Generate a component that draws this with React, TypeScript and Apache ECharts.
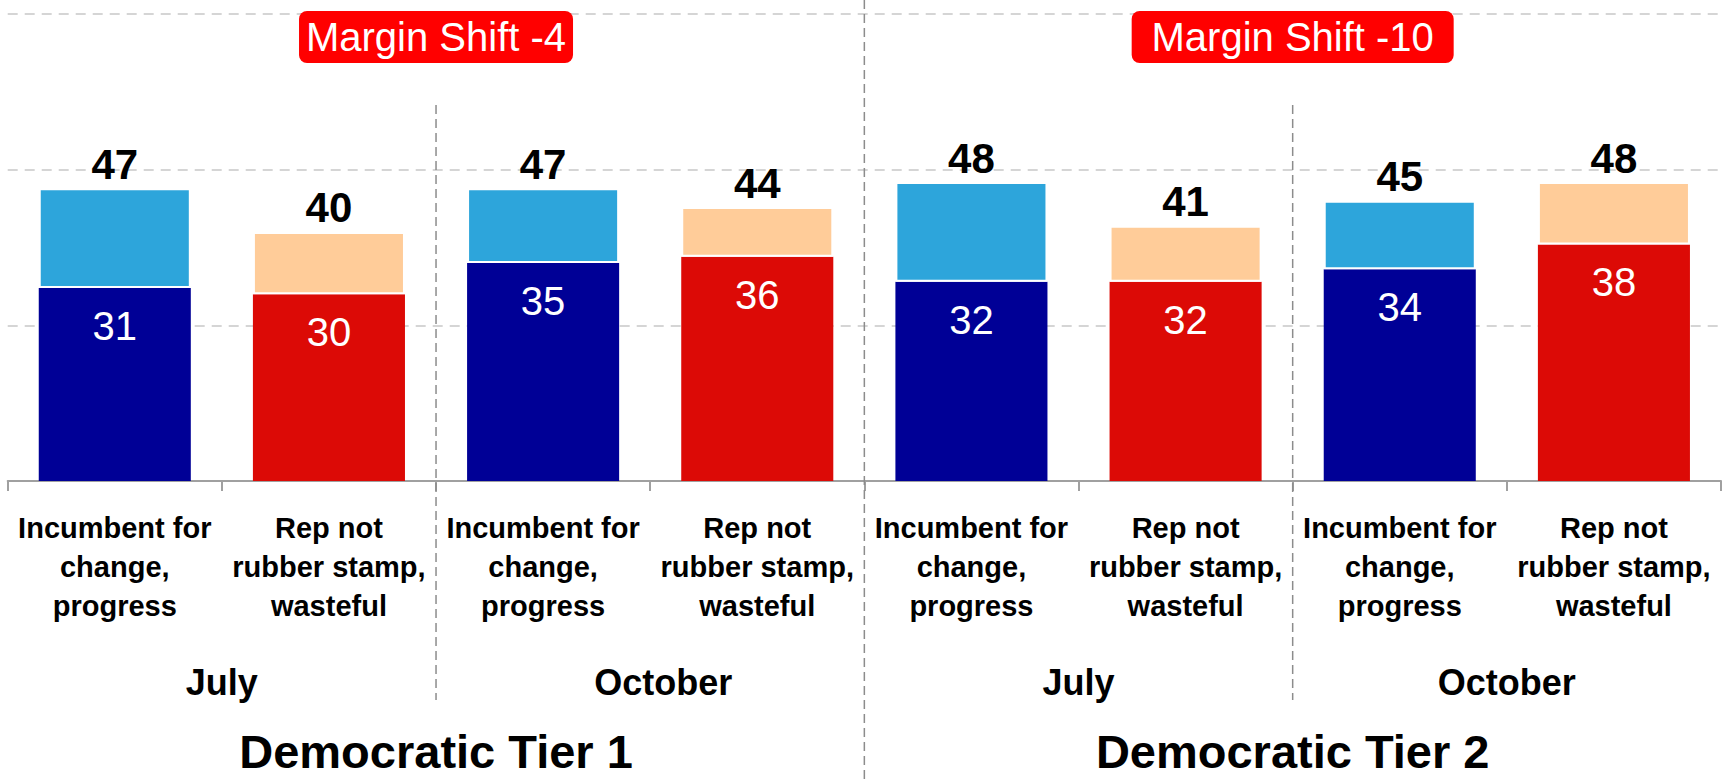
import React, { useEffect, useRef } from "react";
import * as echarts from "echarts";

// ---- data ----
const categories = [
  "Incumbent for\nchange,\nprogress",
  "Rep not\nrubber stamp,\nwasteful",
  "Incumbent for\nchange,\nprogress",
  "Rep not\nrubber stamp,\nwasteful",
  "Incumbent for\nchange,\nprogress",
  "Rep not\nrubber stamp,\nwasteful",
  "Incumbent for\nchange,\nprogress",
  "Rep not\nrubber stamp,\nwasteful",
];
const months = ["July", "October", "July", "October"];
const tiers = ["Democratic Tier 1", "Democratic Tier 2"];
const totals = [47, 40, 47, 44, 48, 41, 45, 48];
const strong = [31, 30, 35, 36, 32, 32, 34, 38];
const marginShifts = ["Margin Shift -4", "Margin Shift -10"];
const yMin = 0;
const yMax = 75;
const yInterval = 25;

// ---- styles ----
const FONT = "Liberation Sans";
const DARK_BLUE = "#000096";
const LIGHT_BLUE = "#2DA5DB";
const DARK_RED = "#DC0A06";
const PEACH = "#FFCC99";
const BOX_RED = "#FF0000";
const AXIS_GRAY = "#A0A0A0";
const boxWidths = [274, 322];

export default function App() {
  const ref = useRef<HTMLDivElement>(null);

  useEffect(() => {
    if (!ref.current) return;
    const chart = echarts.init(ref.current, undefined, { renderer: "svg" });

    const upper = totals.map((t, i) => t - strong[i]);

    const monthLabelStyle = {
      fontFamily: FONT,
      fontWeight: "bold",
      fontSize: 36,
      lineHeight: 36,
      color: "#000",
    };

    const option: any = {
      animation: false,
      grid: { left: 7.7, right: 3, top: 14, bottom: 300, containLabel: false },
      xAxis: [
        {
          type: "category",
          data: categories,
          gridIndex: 0,
          position: "bottom",
          axisLine: { show: true, lineStyle: { color: AXIS_GRAY, width: 2 } },
          axisTick: { show: true, length: 10, lineStyle: { color: AXIS_GRAY, width: 2 } },
          axisLabel: {
            interval: 0,
            margin: 27,
            fontFamily: FONT,
            fontWeight: "bold",
            fontSize: 29,
            lineHeight: 39,
            color: "#000",
            align: "center",
          },
          splitLine: { show: false },
        },
        {
          type: "category",
          data: months,
          gridIndex: 0,
          position: "bottom",
          axisLine: { show: false },
          axisTick: { show: false },
          splitLine: { show: false },
          axisLabel: {
            interval: 0,
            margin: 183,
            ...monthLabelStyle,
            formatter: (v: string, idx: number) => (idx === 1 ? `{s|${v}}` : `{n|${v}}`),
            rich: {
              n: { ...monthLabelStyle },
              s: { ...monthLabelStyle, padding: [0, 0, 0, 26] },
            },
          },
        },
        {
          type: "category",
          data: tiers,
          gridIndex: 0,
          position: "bottom",
          axisLine: { show: false },
          axisTick: { show: false },
          splitLine: { show: false },
          axisLabel: {
            interval: 0,
            margin: 250,
            fontFamily: FONT,
            fontWeight: "bold",
            fontSize: 47,
            lineHeight: 40,
            color: "#000",
          },
        },
      ],
      yAxis: {
        type: "value",
        min: yMin,
        max: yMax,
        interval: yInterval,
        axisLine: { show: false },
        axisTick: { show: false },
        axisLabel: { show: false },
        splitLine: {
          show: true,
          lineStyle: { color: "#C8C8C8", width: 1.5, type: [10, 7] },
        },
      },
      series: [
        {
          type: "bar",
          name: "strong",
          stack: "total",
          xAxisIndex: 0,
          barWidth: "71%",
          data: strong.map((v, i) => ({
            value: v,
            itemStyle: { color: i % 2 === 0 ? DARK_BLUE : DARK_RED },
          })),
          label: {
            show: true,
            position: ["50%", 38],
            align: "center",
            verticalAlign: "middle",
            color: "#fff",
            fontFamily: FONT,
            fontSize: 40,
          },
        },
        {
          type: "bar",
          name: "upper",
          stack: "total",
          xAxisIndex: 0,
          barWidth: "71%",
          data: upper.map((v, i) => ({
            value: v,
            itemStyle: {
              color: i % 2 === 0 ? LIGHT_BLUE : PEACH,
              borderColor: "#fff",
              borderWidth: 2,
            },
          })),
          label: {
            show: true,
            position: "top",
            distance: 3,
            formatter: (p: any) => String(totals[p.dataIndex]),
            color: "#000",
            fontFamily: FONT,
            fontWeight: "bold",
            fontSize: 42,
          },
        },
      ],
    };

    chart.setOption(option);

    // derive positions from the axes
    const center = (i: number) => chart.convertToPixel({ xAxisIndex: 0 }, i) as number;
    const boundary = (k: number) => (center(k - 1) + center(k)) / 2;
    const tierCenter = (t: number) => chart.convertToPixel({ xAxisIndex: 2 }, t) as number;

    const lineStyle = { stroke: "#8C8C8C", lineWidth: 1.5, lineDash: [9, 5] };
    const graphics: any[] = [
      { type: "line", z: 5, shape: { x1: boundary(2), y1: 105, x2: boundary(2), y2: 700 }, style: lineStyle },
      { type: "line", z: 5, shape: { x1: boundary(4), y1: 0, x2: boundary(4), y2: 781 }, style: lineStyle },
      { type: "line", z: 5, shape: { x1: boundary(6), y1: 105, x2: boundary(6), y2: 700 }, style: lineStyle },
    ];
    marginShifts.forEach((txt, t) => {
      const cx = tierCenter(t);
      const w = boxWidths[t];
      graphics.push({
        type: "rect",
        z: 10,
        shape: { x: cx - w / 2, y: 11, width: w, height: 52, r: 8 },
        style: { fill: BOX_RED },
      });
      graphics.push({
        type: "text",
        z: 11,
        x: cx,
        y: 37,
        style: {
          text: txt,
          fill: "#fff",
          fontFamily: FONT,
          fontSize: 40,
          align: "center",
          verticalAlign: "middle",
        },
      });
    });

    chart.setOption({ graphic: graphics });

    return () => chart.dispose();
  }, []);

  return (
    <div
      ref={ref}
      style={{ position: "absolute", left: 0, top: 0, width: 1724, height: 781, background: "#fff" }}
    />
  );
}
